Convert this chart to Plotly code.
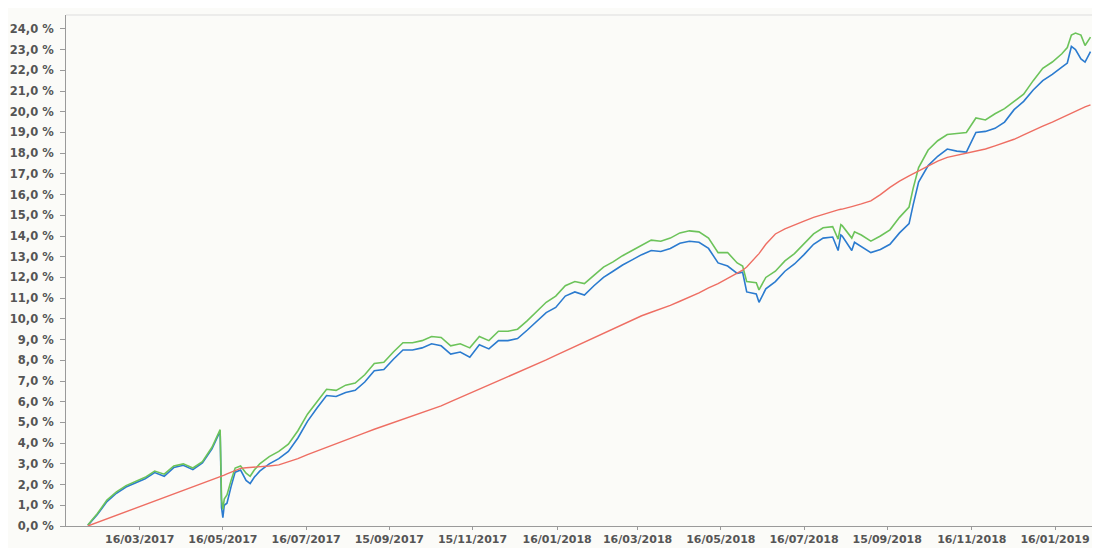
import plotly.graph_objects as go

dates = [
    "2017-02-06", "2017-02-13", "2017-02-20", "2017-02-27", "2017-03-06", "2017-03-13",
    "2017-03-20", "2017-03-27", "2017-04-03", "2017-04-10", "2017-04-17", "2017-04-24",
    "2017-05-01", "2017-05-08", "2017-05-11", "2017-05-14", "2017-05-15", "2017-05-16",
    "2017-05-17", "2017-05-19", "2017-05-22", "2017-05-25", "2017-05-29", "2017-06-02",
    "2017-06-05", "2017-06-08", "2017-06-12", "2017-06-19", "2017-06-26", "2017-07-03",
    "2017-07-10", "2017-07-17", "2017-07-24", "2017-07-31", "2017-08-07", "2017-08-14",
    "2017-08-21", "2017-08-28", "2017-09-04", "2017-09-11", "2017-09-18", "2017-09-25",
    "2017-10-02", "2017-10-09", "2017-10-16", "2017-10-23", "2017-10-30", "2017-11-06",
    "2017-11-13", "2017-11-20", "2017-11-27", "2017-12-04", "2017-12-11", "2017-12-18",
    "2017-12-25", "2018-01-01", "2018-01-08", "2018-01-15", "2018-01-22", "2018-01-29",
    "2018-02-05", "2018-02-12", "2018-02-19", "2018-02-26", "2018-03-05", "2018-03-12",
    "2018-03-19", "2018-03-26", "2018-04-02", "2018-04-09", "2018-04-16", "2018-04-23",
    "2018-04-30", "2018-05-07", "2018-05-14", "2018-05-21", "2018-05-28", "2018-06-01",
    "2018-06-04", "2018-06-11", "2018-06-13", "2018-06-18", "2018-06-25", "2018-07-02",
    "2018-07-09", "2018-07-16", "2018-07-23", "2018-07-30", "2018-08-06", "2018-08-10",
    "2018-08-12", "2018-08-13", "2018-08-20", "2018-08-22", "2018-08-27", "2018-09-03",
    "2018-09-10", "2018-09-17", "2018-09-24", "2018-10-01", "2018-10-04", "2018-10-08",
    "2018-10-15", "2018-10-22", "2018-10-29", "2018-11-05", "2018-11-12", "2018-11-19",
    "2018-11-26", "2018-12-03", "2018-12-10", "2018-12-17", "2018-12-24", "2018-12-31",
    "2019-01-07", "2019-01-14", "2019-01-21", "2019-01-25", "2019-01-28", "2019-01-31",
    "2019-02-04", "2019-02-07", "2019-02-11",
]

green = [
    0.05, 0.60, 1.25, 1.65, 1.95, 2.15,
    2.35, 2.65, 2.50, 2.90, 3.00, 2.80,
    3.10, 3.80, 4.20, 4.65, 1.30, 0.80,
    1.30, 1.50, 2.20, 2.80, 2.90, 2.55,
    2.40, 2.70, 3.00, 3.35, 3.60, 3.95,
    4.60, 5.40, 6.00, 6.60, 6.55, 6.80,
    6.90, 7.30, 7.85, 7.90, 8.40, 8.85,
    8.85, 8.95, 9.15, 9.10, 8.70, 8.80,
    8.60, 9.15, 8.95, 9.40, 9.40, 9.50,
    9.90, 10.35, 10.80, 11.10, 11.60, 11.80,
    11.70, 12.10, 12.50, 12.75, 13.05, 13.30,
    13.55, 13.80, 13.75, 13.90, 14.15, 14.25,
    14.20, 13.90, 13.20, 13.20, 12.70, 12.55,
    11.80, 11.75, 11.40, 12.00, 12.30, 12.80,
    13.15, 13.60, 14.10, 14.40, 14.45, 13.85,
    14.55, 14.50, 13.90, 14.20, 14.05, 13.75,
    14.00, 14.30, 14.90, 15.40, 16.30, 17.30,
    18.15, 18.60, 18.90, 18.95, 19.00, 19.70,
    19.60, 19.90, 20.15, 20.50, 20.85, 21.50,
    22.10, 22.40, 22.80, 23.10, 23.70, 23.80,
    23.70, 23.20, 23.60,
]

blue = [
    0.03, 0.55, 1.18, 1.58, 1.88, 2.08,
    2.28, 2.58, 2.40, 2.82, 2.93, 2.72,
    3.05, 3.72, 4.12, 4.58, 0.90, 0.40,
    1.00, 1.10, 1.90, 2.60, 2.70, 2.20,
    2.05, 2.35, 2.65, 3.00, 3.25, 3.60,
    4.25, 5.05, 5.70, 6.30, 6.25, 6.45,
    6.55, 6.95, 7.50, 7.55, 8.05, 8.50,
    8.50, 8.60, 8.80, 8.70, 8.30, 8.40,
    8.15, 8.75, 8.55, 8.95, 8.95, 9.05,
    9.45, 9.90, 10.30, 10.55, 11.10, 11.30,
    11.15, 11.60, 12.00, 12.30, 12.60, 12.85,
    13.10, 13.30, 13.25, 13.40, 13.65, 13.75,
    13.70, 13.40, 12.70, 12.55, 12.20, 12.25,
    11.30, 11.20, 10.80, 11.45, 11.80, 12.30,
    12.65, 13.10, 13.60, 13.90, 13.95, 13.30,
    14.05, 14.00, 13.30, 13.70, 13.50, 13.20,
    13.35, 13.60, 14.15, 14.60, 15.50, 16.60,
    17.40, 17.85, 18.20, 18.10, 18.05, 19.00,
    19.05, 19.20, 19.50, 20.10, 20.50, 21.05,
    21.50, 21.80, 22.15, 22.35, 23.15, 23.00,
    22.55, 22.40, 22.90,
]

red = [
    0.00, 0.17, 0.34, 0.52, 0.69, 0.86,
    1.03, 1.20, 1.37, 1.54, 1.71, 1.88,
    2.06, 2.23, 2.30, 2.37, 2.40, 2.43,
    2.46, 2.52, 2.60, 2.70, 2.78, 2.81,
    2.82, 2.84, 2.86, 2.90, 2.95, 3.10,
    3.25, 3.45, 3.63, 3.80, 3.98, 4.16,
    4.34, 4.50, 4.67, 4.83, 5.00, 5.15,
    5.32, 5.48, 5.64, 5.80, 6.00, 6.20,
    6.40, 6.60, 6.80, 7.00, 7.20, 7.40,
    7.60, 7.80, 8.02, 8.24, 8.45, 8.66,
    8.88, 9.10, 9.32, 9.52, 9.74, 9.95,
    10.15, 10.32, 10.48, 10.65, 10.85, 11.05,
    11.25, 11.50, 11.70, 11.95, 12.18, 12.35,
    12.50, 13.00, 13.15, 13.60, 14.10, 14.35,
    14.55, 14.72, 14.90, 15.05, 15.20, 15.26,
    15.29, 15.30, 15.42, 15.45, 15.55, 15.70,
    16.00, 16.35, 16.65, 16.90, 17.00, 17.15,
    17.40, 17.62, 17.80, 17.90, 18.00, 18.10,
    18.20, 18.35, 18.50, 18.67, 18.88, 19.10,
    19.30, 19.50, 19.72, 19.85, 19.93, 20.00,
    20.13, 20.23, 20.33,
]

x_tick_dates = [
    "2017-03-16", "2017-05-16", "2017-07-16", "2017-09-15", "2017-11-15", "2018-01-16",
    "2018-03-16", "2018-05-16", "2018-07-16", "2018-09-15", "2018-11-16", "2019-01-16",
]
x_tick_labels = [
    "16/03/2017", "16/05/2017", "16/07/2017", "15/09/2017", "15/11/2017", "16/01/2018",
    "16/03/2018", "16/05/2018", "16/07/2018", "15/09/2018", "16/11/2018", "16/01/2019",
]
y_tick_values = list(range(0, 25))
y_tick_labels = [f"{v:.1f}".replace(".", ",") + " %" for v in y_tick_values]

fig = go.Figure()
fig.add_trace(go.Scatter(x=dates, y=blue, mode="lines",
                         line=dict(color="#2b7bcf", width=1.6), showlegend=False))
fig.add_trace(go.Scatter(x=dates, y=green, mode="lines",
                         line=dict(color="#6cc35a", width=1.6), showlegend=False))
fig.add_trace(go.Scatter(x=dates, y=red, mode="lines",
                         line=dict(color="#ee6e63", width=1.4), showlegend=False))

xfont = dict(family="DejaVu Sans", size=11, color="#555555", weight="bold")
yfont = dict(family="DejaVu Sans", size=11.5, color="#555555", weight="bold")

# page body has an 8px margin: size figure so the screen layout matches
fig.update_layout(
    width=1092, height=540,
    margin=dict(l=56, r=2, t=7, b=20),
    paper_bgcolor="#fbfbf8",
    plot_bgcolor="#fbfbf8",
    xaxis=dict(
        type="date",
        range=["2017-01-21", "2019-02-16 12:00"],
        tickvals=x_tick_dates, ticktext=x_tick_labels,
        showgrid=False, zeroline=False,
        showline=True, linecolor="#9a9a9a", linewidth=1,
        ticks="outside", ticklen=3, tickcolor="#9a9a9a",
        tickfont=xfont,
    ),
    yaxis=dict(
        range=[0, 24.67],
        tickvals=y_tick_values, ticktext=y_tick_labels,
        showgrid=False, zeroline=False,
        showline=True, linecolor="#9a9a9a", linewidth=1,
        ticks="outside", ticklen=5, tickcolor="#9a9a9a",
        ticklabelstandoff=4,
        tickfont=yfont,
    ),
    shapes=[dict(type="line", xref="paper", yref="paper", x0=0, x1=1, y0=1, y1=1,
                 line=dict(color="#dddddd", width=1))],
)

fig.write_html("out.html")
